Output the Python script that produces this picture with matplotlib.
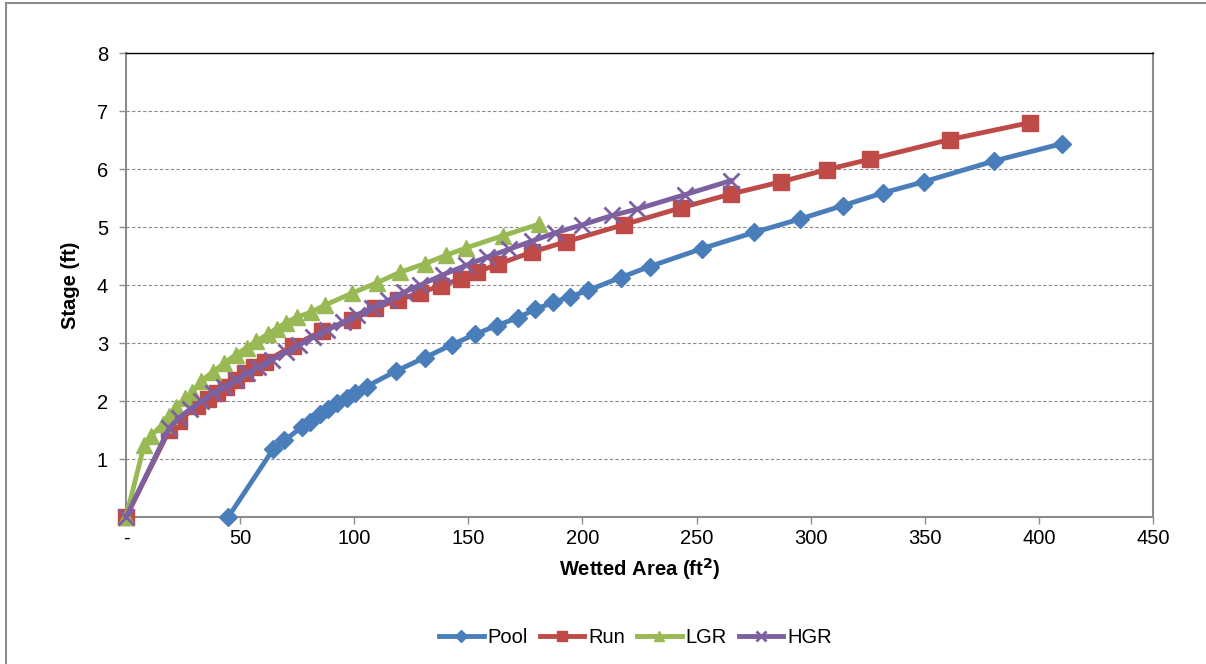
import matplotlib.pyplot as plt
from matplotlib.lines import Line2D

plt.rcParams['font.family'] = ['Liberation Sans', 'DejaVu Sans']

# Wetted area (ft2) and stage (ft) for each habitat type
pool_x = [44.8, 64.5, 69.4, 77.0, 80.6, 85.0, 88.7, 92.3, 96.7, 100.4, 105.4, 118.5,
          131.0, 142.7, 152.9, 162.4, 171.9, 179.2, 187.2, 194.6, 202.6, 216.7,
          229.5, 252.5, 275.4, 295.4, 314.1, 331.8, 349.5, 380.4, 410.3]
pool_y = [0.0, 1.17, 1.32, 1.55, 1.64, 1.78, 1.87, 1.96, 2.05, 2.14, 2.25, 2.52,
          2.75, 2.97, 3.15, 3.30, 3.44, 3.58, 3.70, 3.80, 3.91, 4.13,
          4.32, 4.63, 4.91, 5.14, 5.37, 5.59, 5.78, 6.14, 6.44]

run_x = [0, 19, 23, 31, 36, 40, 44, 48, 52, 56, 61, 73, 86, 99, 109, 119, 129,
         138, 147, 154, 163, 178, 193, 218, 243, 265, 287, 307, 326, 361, 396]
run_y = [0.0, 1.5, 1.65, 1.92, 2.03, 2.14, 2.25, 2.37, 2.48, 2.58, 2.68, 2.95,
         3.21, 3.39, 3.6, 3.74, 3.87, 3.99, 4.11, 4.23, 4.36, 4.57, 4.75, 5.04,
         5.33, 5.57, 5.78, 5.99, 6.17, 6.51, 6.8]

lgr_x = [0, 8, 11, 16, 19, 22, 26, 29, 33, 38, 43, 48, 53, 57, 62, 66, 70, 75,
         81, 87, 99, 110, 120, 131, 140, 149, 165, 181]
lgr_y = [0.0, 1.25, 1.4, 1.6, 1.75, 1.9, 2.05, 2.15, 2.35, 2.5, 2.65, 2.8, 2.92,
         3.03, 3.15, 3.25, 3.35, 3.45, 3.53, 3.65, 3.86, 4.04, 4.22, 4.37, 4.51,
         4.64, 4.85, 5.05]

hgr_x = [0, 19, 23, 28, 33, 38, 43, 48, 53, 58, 64, 70, 76, 82, 88, 95, 101,
         108, 115, 122, 129, 139, 149, 158, 168, 178, 188, 200, 213, 224, 245, 265]
hgr_y = [0.0, 1.54, 1.7, 1.86, 2.0, 2.13, 2.25, 2.37, 2.48, 2.59, 2.71, 2.84,
         2.97, 3.1, 3.22, 3.36, 3.48, 3.61, 3.74, 3.88, 4.0, 4.18, 4.34, 4.48,
         4.62, 4.76, 4.9, 5.04, 5.2, 5.31, 5.56, 5.8]

x_ticks = [0, 50, 100, 150, 200, 250, 300, 350, 400, 450]
x_labels = ['-', '50', '100', '150', '200', '250', '300', '350', '400', '450']
y_ticks = [1, 2, 3, 4, 5, 6, 7, 8]

fig = plt.figure(figsize=(12.06, 6.64), dpi=100)
ax = fig.add_axes([0.1045, 0.2214, 0.8515, 0.6986])

# outer chart border (top and left visible)
fig.add_artist(Line2D([6 / 1206, 1], [1 - 3 / 664, 1 - 3 / 664], color='#8c8c8c', lw=1.5,
                      transform=fig.transFigure))
fig.add_artist(Line2D([6 / 1206, 6 / 1206], [0, 1 - 3 / 664], color='#8c8c8c', lw=1.5,
                      transform=fig.transFigure))

ax.plot(pool_x, pool_y, color='#4A7EBB', lw=3.5, marker='D', ms=9.5, label='Pool',
        zorder=3, clip_on=False)
ax.plot(run_x, run_y, color='#BE4B48', lw=3.5, marker='s', ms=11, label='Run',
        zorder=3, clip_on=False)
ax.plot(lgr_x, lgr_y, color='#98B954', lw=3.5, marker='^', ms=11, label='LGR',
        zorder=3, clip_on=False)
ax.plot(hgr_x, hgr_y, color='#7D60A0', lw=3.5, marker='x', ms=11, mew=2, label='HGR',
        zorder=4, clip_on=False)

ax.set_xlim(0, 450)
ax.set_ylim(0, 8)
ax.set_xticks(x_ticks)
ax.set_xticklabels(x_labels)
ax.set_yticks(y_ticks)
ax.tick_params(axis='both', labelsize=14.5, color='#8c8c8c', length=5, width=1)
ax.tick_params(axis='y', pad=8)

ax.grid(axis='y', color='#8c8c8c', ls=(0, (3, 2)), lw=0.8)
for s in ['left', 'bottom', 'right']:
    ax.spines[s].set_color('#8c8c8c')
    ax.spines[s].set_linewidth(1.5)
ax.spines['top'].set_color('black')
ax.spines['top'].set_linewidth(1)

ax.set_xlabel('Wetted Area (ft$^\\mathbf{2}$)', fontsize=14.5, fontweight='bold', labelpad=6)
ax.set_ylabel('Stage (ft)', fontsize=14.5, fontweight='bold', labelpad=12)

leg = fig.legend(loc='center', bbox_to_anchor=(0.527, 0.04), ncol=4, frameon=False,
                 fontsize=14.5, handlelength=2.2, columnspacing=0.6, handletextpad=0.2,
                 markerscale=0.6)

fig.savefig('out.png', dpi=100)
